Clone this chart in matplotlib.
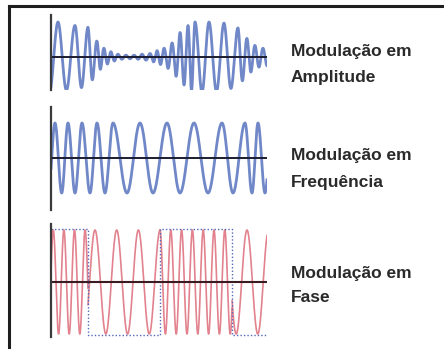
import numpy as np
import matplotlib
matplotlib.use("Agg")
import matplotlib.pyplot as plt
from matplotlib.lines import Line2D

# pixel size of the picture
W, H = 444, 349

# AM: carrier peak positions (px) and envelope height at each peak (fraction)
am_peaks = [58, 75, 88, 97, 104, 111, 118, 126, 134, 142, 150, 157, 164, 172,
            180, 188, 195, 209, 224, 238, 247, 255, 263]
am_amps = [1.0, 0.9, 0.85, 0.45, 0.25, 0.15, 0.08, 0.05, 0.05, 0.08, 0.1, 0.18,
           0.25, 0.4, 0.7, 0.9, 1.0, 1.0, 0.97, 0.83, 0.53, 0.33, 0.25]

# FM: alternating peak / trough positions (px)
fm_extrema = [55, 61.7, 68, 75, 82, 90, 97, 105, 113, 127, 140, 153, 167, 180,
              194, 208, 222, 233, 245, 252, 258, 265]

# PM: bit segments, carrier period in each, one peak position in each
pm_edges = [51, 88, 160, 232, 267]
pm_bits = [1, 0, 1, 0]
pm_period = [10.6, 21.7, 10.8, 21.6]
pm_peak_ref = [53.3, 95, 160, 247]

labels = [("Modulação em", "Amplitude"),
          ("Modulação em", "Frequência"),
          ("Modulação em", "Fase")]
label_base = [(56, 82), (160, 187), (278, 302)]

blue = "#7188c8"
red = "#e2828e"
dark = "#2a2a2a"


def phase_from(x, marks, step):
    m = np.asarray(marks, float)
    k = np.arange(len(m)) * step
    ph = np.interp(x, m, k)
    lo = x < m[0]
    hi = x > m[-1]
    ph[lo] = k[0] - (m[0] - x[lo]) * step / (m[1] - m[0])
    ph[hi] = k[-1] + (x[hi] - m[-1]) * step / (m[-1] - m[-2])
    return ph


def add_panel(top, bottom, center):
    ax = fig.add_axes([51 / W, 1 - bottom / H, 216 / W, (bottom - top) / H])
    ax.set_xlim(51, 267)
    ax.set_ylim(-(bottom - center), center - top)
    for s in ["top", "right", "bottom"]:
        ax.spines[s].set_visible(False)
    ax.spines["left"].set_color("#3a3a3a")
    ax.spines["left"].set_linewidth(1.6)
    ax.set_xticks([])
    ax.set_yticks([])
    ax.patch.set_alpha(0)
    return ax


fig = plt.figure(figsize=(W / 100, H / 100), dpi=100)
fig.patch.set_facecolor("white")

x = np.linspace(51, 267, 3000)

# amplitude modulation
ax1 = add_panel(15, 90, 57)
env = np.interp(x, am_peaks, am_amps)
ax1.plot(x, 35 * env * np.cos(phase_from(x, am_peaks, 2 * np.pi)),
         color=blue, lw=2.0)
ax1.axhline(0, color="#1c1c30", lw=1.4)

# frequency modulation
ax2 = add_panel(107, 210, 158)
ax2.plot(x, 35 * np.cos(phase_from(x, fm_extrema, np.pi)), color=blue, lw=2.0)
ax2.axhline(0, color="#1c1c30", lw=1.4)

# phase modulation
ax3 = add_panel(224, 337, 282)
for i, bit in enumerate(pm_bits):
    xs = x[(x >= pm_edges[i]) & (x <= pm_edges[i + 1])]
    ax3.plot(xs, 52 * np.cos(2 * np.pi * (xs - pm_peak_ref[i]) / pm_period[i]),
             color=red, lw=1.2)
sq_x = np.repeat(pm_edges, 2)[1:-1]
sq_y = np.repeat([53 if b else -53 for b in pm_bits], 2)
ax3.plot(sq_x, sq_y, color="#5468b8", lw=1.0, ls=(0, (1, 1.5)))
ax3.axhline(0, color="#3a1c22", lw=1.5)

# outer frame (left and top edges)
fig.add_artist(Line2D([9 / W, 9 / W], [0, 1 - 6 / H], transform=fig.transFigure,
                      color="#1e1e1e", lw=2.2))
fig.add_artist(Line2D([9 / W, 1], [1 - 6 / H, 1 - 6 / H], transform=fig.transFigure,
                      color="#1e1e1e", lw=2.2))

for (l1, l2), (b1, b2) in zip(labels, label_base):
    for txt, b in [(l1, b1), (l2, b2)]:
        fig.text(291 / W, 1 - b / H, txt, ha="left", va="baseline",
                 fontsize=12.5, fontweight="bold", color=dark,
                 family=["Liberation Sans", "DejaVu Sans"])

fig.savefig("out.png", dpi=100)
